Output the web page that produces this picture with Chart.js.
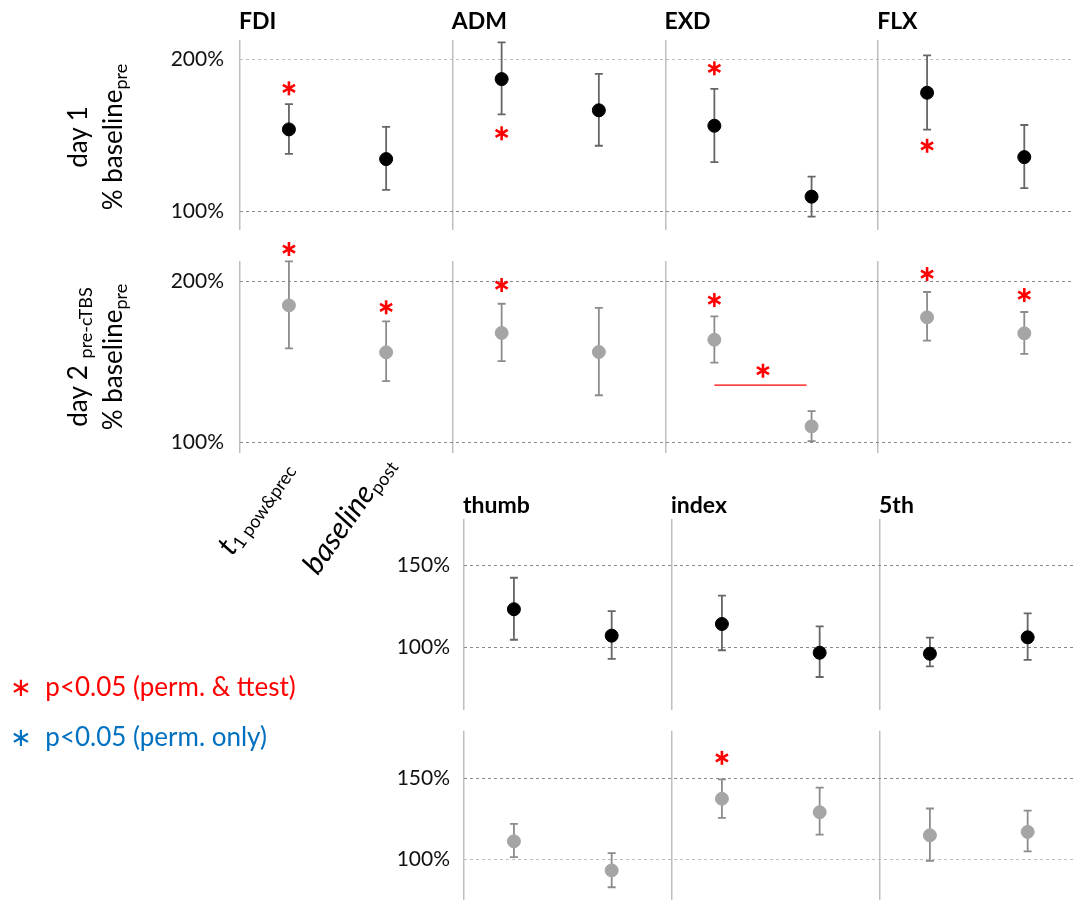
<!DOCTYPE html>
<html>
<head>
<meta charset="utf-8">
<script src="https://cdn.jsdelivr.net/npm/chart.js@4"></script>
<style>
body{margin:0;width:1073px;height:900px;overflow:hidden;background:#fff;position:relative;font-family:Lato,"Open Sans",sans-serif;color:#000}
canvas{position:absolute;left:0}
.ytitle{position:absolute;width:240px;height:70px;text-align:center;font-size:26px;line-height:35px;transform:rotate(-90deg);white-space:nowrap}
.ytitle sub{font-size:18px;vertical-align:-5px;line-height:0}
.xlab{position:absolute;width:220px;height:30px;text-align:right;transform-origin:100% 50%;transform:rotate(-55deg);white-space:nowrap;font-style:italic;font-size:30px;line-height:30px}
.xlab sub{font-style:normal;font-size:18px;vertical-align:-4px;line-height:0}
.legend{position:absolute;font-size:26px;line-height:31px;white-space:nowrap}
</style>
</head>
<body>
<canvas id="row1" width="1073" height="260" style="top:0"></canvas>
<canvas id="row2" width="1073" height="370" style="top:230px"></canvas>
<canvas id="row3" width="1073" height="270" style="top:470px"></canvas>
<canvas id="row4" width="1073" height="230" style="top:700px"></canvas>

<div class="ytitle" style="left:-25px;top:102px">day 1<br>% baseline<sub>pre</sub></div>
<div class="ytitle" style="left:-25px;top:322px">day 2 <sub>pre-cTBS</sub><br>% baseline<sub>pre</sub></div>
<div class="xlab" style="left:64px;top:447px">t<sub>1 pow&amp;prec</sub></div>
<div class="xlab" style="left:166px;top:443px">baseline<sub>post</sub></div>

<div class="legend" style="left:10px;top:671px;color:#FF0000">∗&nbsp; p&lt;0.05 (perm. &amp; ttest)</div>
<div class="legend" style="left:10px;top:721px;color:#0070C0">∗&nbsp; p&lt;0.05 (perm. only)</div>

<script>
// panels
const muscles = ['FDI', 'ADM', 'EXD', 'FLX'];
const fingers = ['thumb', 'index', '5th'];
// each panel: [t1 pow&prec, baseline post]

// day 1, muscles (% baseline pre)
const day1Mean  = [153.9, 134.3, 187.1, 166.5, 156.3, 109.5, 178.1, 135.6];
const day1Upper = [170.6, 155.6, 211.3, 190.6, 180.7, 122.7, 202.8, 156.8];
const day1Lower = [137.8, 114.0, 163.8, 143.1, 132.3,  96.3, 153.7, 115.2];
const day1Star  = [181.0, null, 151.3, null, 194.2, null, 143.1, null];

// day 2 pre-cTBS, muscles
const day2Mean  = [185.1, 156.0, 168.0, 156.2, 163.8, 110.1, 177.7, 167.8];
const day2Upper = [212.4, 175.2, 186.1, 183.6, 178.3, 119.6, 193.4, 181.0];
const day2Lower = [158.5, 138.2, 150.6, 129.4, 149.6, 101.0, 163.2, 155.1];
const day2Star  = [220.0, 183.9, 197.7, null, 188.4, null, 204.5, 191.5];
// EXD t1 vs baseline post comparison
const day2Bracket = {panel: 2, level: 135.7, star: 144.6};

// day 1, fingers
const fing1Mean  = [123.2, 107.1, 114.2, 96.7, 96.1, 106.1];
const fing1Upper = [142.4, 122.1, 131.5, 112.8, 105.9, 120.7];
const fing1Lower = [104.6,  93.0,  98.2, 81.9, 88.4,  92.3];
const fing1Star  = [null, null, null, null, null, null];

// day 2, fingers
const fing2Mean  = [111.2,  93.2, 137.5, 129.2, 114.9, 117.0];
const fing2Upper = [122.0, 103.9, 149.5, 144.4, 131.5, 130.2];
const fing2Lower = [101.4,  82.8, 125.7, 115.3,  99.1, 105.0];
const fing2Star  = [null, null, 162.8, null, null, null];

const ticksTop = [100, 200];
const ticksBottom = [100, 150];

const RED = '#FF0000';

function drawStar(ctx, x, y, r) {
    ctx.save();
    ctx.strokeStyle = RED;
    ctx.lineWidth = 2.6;
    for (let k = 0; k < 3; k++) {
        const a = Math.PI / 2 + k * Math.PI / 3;
        ctx.beginPath();
        ctx.moveTo(x - r * Math.cos(a), y - r * Math.sin(a));
        ctx.lineTo(x + r * Math.cos(a), y + r * Math.sin(a));
        ctx.stroke();
    }
    ctx.restore();
}

const decoPlugin = {
    id: 'deco',
    beforeDatasetsDraw(chart) {
        const o = chart.options.plugins.deco;
        const ctx = chart.ctx, xs = chart.scales.x, ys = chart.scales.y;
        ctx.save();
        ctx.strokeStyle = o.barColor;
        ctx.lineWidth = 1.8;
        o.mean.forEach((m, i) => {
            const px = xs.getPixelForValue(o.xPos[i]);
            const top = ys.getPixelForValue(o.upper[i]);
            const bot = ys.getPixelForValue(o.lower[i]);
            ctx.beginPath();
            ctx.moveTo(px, top); ctx.lineTo(px, bot);
            ctx.moveTo(px - 4, top); ctx.lineTo(px + 4, top);
            ctx.moveTo(px - 4, bot); ctx.lineTo(px + 4, bot);
            ctx.stroke();
        });
        ctx.restore();
    },
    afterDatasetsDraw(chart) {
        const o = chart.options.plugins.deco;
        const ctx = chart.ctx, xs = chart.scales.x, ys = chart.scales.y;
        o.star.forEach((s, i) => {
            if (s === null) return;
            drawStar(ctx, xs.getPixelForValue(o.xPos[i]), ys.getPixelForValue(s), 7);
        });
        if (o.bracket) {
            const b = o.bracket;
            const x1 = xs.getPixelForValue(o.xPos[b.panel * 2]);
            const x2 = xs.getPixelForValue(o.xPos[b.panel * 2 + 1]);
            const yb = ys.getPixelForValue(b.level);
            ctx.save();
            ctx.strokeStyle = RED;
            ctx.lineWidth = 1.2;
            ctx.beginPath();
            ctx.moveTo(x1, yb); ctx.lineTo(x2 - 5, yb);
            ctx.stroke();
            ctx.restore();
            drawStar(ctx, (x1 + x2) / 2, ys.getPixelForValue(b.star), 7);
        }
        if (o.titles) {
            ctx.save();
            ctx.font = 'bold 23px Lato, "Open Sans", sans-serif';
            ctx.fillStyle = '#000';
            ctx.textBaseline = 'middle';
            o.titles.forEach((t, p) => {
                ctx.fillText(t, xs.getPixelForValue(p) - 1, o.titleY);
            });
            ctx.restore();
        }
    }
};

function makeRow(id, c) {
    const xPos = c.mean.map((_, i) => Math.floor(i / 2) + c.offsets[i % 2]);
    return new Chart(document.getElementById(id), {
        type: 'scatter',
        data: {
            datasets: [{
                data: c.mean.map((m, i) => ({x: xPos[i], y: m})),
                backgroundColor: c.pointColor,
                borderColor: c.pointColor,
                pointRadius: 6.5,
                pointHoverRadius: 6.5
            }]
        },
        options: {
            responsive: false,
            animation: false,
            clip: false,
            layout: {autoPadding: false, padding: {top: c.padTop, bottom: c.padBottom, left: 0, right: 0}},
            plugins: {
                legend: {display: false},
                tooltip: {enabled: false},
                deco: {
                    xPos: xPos, mean: c.mean, upper: c.upper, lower: c.lower, star: c.star,
                    bracket: c.bracket, titles: c.showTitles ? c.titles : null, titleY: c.titleY,
                    barColor: c.barColor
                }
            },
            scales: {
                x: {
                    type: 'linear',
                    min: 0,
                    max: c.xMax,
                    afterBuildTicks: s => { s.ticks = c.titles.map((_, p) => ({value: p})); },
                    afterFit: s => { s.height = 0; },
                    ticks: {display: false},
                    border: {display: false},
                    grid: {color: '#BFBFBF', lineWidth: 1.5, drawTicks: false}
                },
                y: {
                    min: c.yMin,
                    max: c.yMax,
                    afterBuildTicks: s => { s.ticks = c.yTicks.map(v => ({value: v})); },
                    afterFit: s => { s.width = c.axisLeft; },
                    border: {display: false, dash: [3, 3]},
                    grid: {
                        drawTicks: false,
                        lineWidth: 1,
                        color: ctx => (c.gridDark.includes(ctx.tick && ctx.tick.value) ? '#8A8A8A' : '#BDBDBD')
                    },
                    ticks: {
                        padding: c.tickPad,
                        color: '#111',
                        font: {family: 'Lato, "Open Sans", sans-serif', size: 21},
                        callback: v => v + '%'
                    }
                }
            }
        },
        plugins: [decoPlugin]
    });
}

const topOffsets = [0.23, 0.687];
const bottomOffsets = [0.24, 0.71];

makeRow('row1', {
    titles: muscles, showTitles: true, titleY: 22,
    mean: day1Mean, upper: day1Upper, lower: day1Lower, star: day1Star,
    offsets: topOffsets, xMax: 3.916, axisLeft: 240, tickPad: 16,
    yMin: 87.5, yMax: 212.9, yTicks: ticksTop, gridDark: [100],
    padTop: 40, padBottom: 30,
    pointColor: '#000000', barColor: '#666666'
});
makeRow('row2', {
    titles: muscles, showTitles: false,
    mean: day2Mean, upper: day2Upper, lower: day2Lower, star: day2Star, bracket: day2Bracket,
    offsets: topOffsets, xMax: 3.916, axisLeft: 240, tickPad: 16,
    yMin: 93.8, yMax: 212.6, yTicks: ticksTop, gridDark: [100, 200],
    padTop: 31, padBottom: 147.3,
    pointColor: '#A5A5A5', barColor: '#8C8C8C'
});
makeRow('row3', {
    titles: fingers, showTitles: true, titleY: 36,
    mean: fing1Mean, upper: fing1Upper, lower: fing1Lower, star: fing1Star,
    offsets: bottomOffsets, xMax: 2.928, axisLeft: 464, tickPad: 14,
    yMin: 61.8, yMax: 178.2, yTicks: ticksBottom, gridDark: [100, 150],
    padTop: 49, padBottom: 30,
    pointColor: '#000000', barColor: '#666666'
});
makeRow('row4', {
    titles: fingers, showTitles: false,
    mean: fing2Mean, upper: fing2Upper, lower: fing2Lower, star: fing2Star,
    offsets: bottomOffsets, xMax: 2.928, axisLeft: 464, tickPad: 14,
    yMin: 74.9, yMax: 179.6, yTicks: ticksBottom, gridDark: [150],
    padTop: 30.7, padBottom: 30,
    pointColor: '#A5A5A5', barColor: '#8C8C8C'
});
</script>
</body>
</html>
